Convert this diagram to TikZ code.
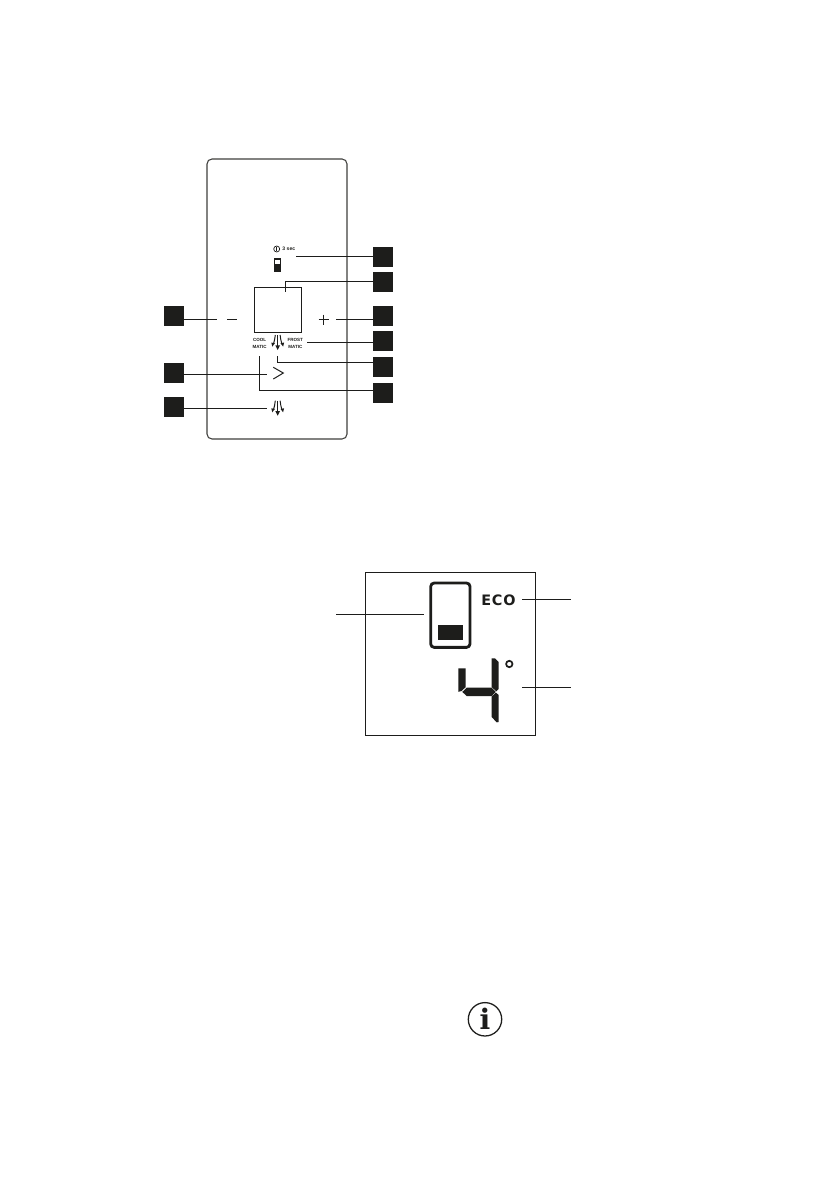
\documentclass[tikz,border=0pt]{standalone}
\usepackage{fontspec}
\setmainfont{Liberation Sans}
\newfontfamily\ecofont[LetterSpace=6]{DejaVu Sans}
\newfontfamily\infofont{DejaVu Serif}
\definecolor{ink}{HTML}{1D1D1B}
\tikzset{
	numbox/.style={draw=none,fill=ink,minimum size=14.2pt,inner sep=0pt,outer sep=0pt},
	leader/.style={draw=ink,line width=0.65pt},
	tinylabel/.style={inner sep=0pt,align=center,text=ink,font=\fontsize{3.2}{5}\selectfont\bfseries},
	fanicon/.pic={
		\draw[ink,line width=0.8pt] (0,0) -- (0,12);
		\fill[ink] (-2.3,10.4) -- (2.3,10.4) -- (0,15) -- cycle;
		\draw[ink,line width=0.7pt] (-2.4,0) .. controls (-2.4,3) and (-3.6,6) .. (-4.2,9);
		\fill[ink] (-6.4,7.6) -- (-2.8,8.2) -- (-5.4,11.6) -- cycle;
		\draw[ink,line width=0.7pt] (2.4,0) .. controls (2.4,3) and (3.6,6) .. (4.2,9);
		\fill[ink] (6.4,7.6) -- (2.8,8.2) -- (5.4,11.6) -- cycle;
	}
}
\begin{document}
\begin{tikzpicture}[x=0.709pt,y=-0.709pt]
	\useasboundingbox[fill=white] (0,0) rectangle (839,1191);

	% control panel
	\draw[ink!85,line width=0.75pt,rounded corners=3.5pt] (207,159) rectangle (347,439);
	\draw[ink,line width=0.7pt] (254.3,287.3) rectangle (301.3,332);
	\draw[ink,line width=0.7pt] (227,319.3) -- (237,319.3);
	\draw[ink,line width=0.5pt] (318.7,319.7) -- (328.7,319.7);
	\draw[ink,line width=0.5pt] (323.7,314.7) -- (323.7,324.7);
	\draw[ink,line width=0.7pt] (273.3,367.3) -- (283.3,373) -- (273.3,379);

	\draw[ink,line width=0.5pt] (276.7,249) circle (3);
	\draw[ink,line width=0.5pt] (276.7,247.2) -- (276.7,250.8);
	\node[tinylabel,anchor=west,font=\fontsize{3.6}{5}\selectfont\bfseries] (seclabel) at (282.2,249) {3 sec};
	\draw[ink,line width=1.1pt] (274.5,258.8) rectangle (280.3,271);
	\fill[ink] (275.2,264.4) rectangle (279.6,265.6);
	\fill[ink] (275.2,266.5) rectangle (279.6,270.4);

	\node[tinylabel] (coollabel) at (259.7,343.2) {COOL\\MATIC};
	\node[tinylabel] (frostlabel) at (295.3,343.2) {FROST\\MATIC};
	\pic at (277.7,335) {fanicon};
	\pic at (277.7,400.7) {fanicon};

	% numbered boxes
	\node[numbox] (boxminus) at (174,316) {};
	\node[numbox] (boxnext) at (174,373) {};
	\node[numbox] (boxfan) at (174,407) {};
	\node[numbox] (boxinfo) at (383,257) {};
	\node[numbox] (boxdisplay) at (383,282) {};
	\node[numbox] (boxplus) at (383,316) {};
	\node[numbox] (boxfrost) at (383,341) {};
	\node[numbox] (boxdown) at (383,367) {};
	\node[numbox] (boxcool) at (383,393) {};

	\coordinate (tipminus) at (217,319.7);
	\coordinate (tipnext) at (266.7,374.3);
	\coordinate (tipfan) at (266.7,408.3);
	\coordinate (tipinfo) at (295.7,256.3);
	\coordinate (tipdisplay) at (285.7,291.7);
	\coordinate (tipplus) at (335.7,319.7);
	\coordinate (tipfrost) at (306.7,342.3);
	\coordinate (tipdown) at (277.7,356);
	\coordinate (tipcool) at (259.3,356);

	\draw[leader] (tipminus -| boxminus.east) -- (tipminus);
	\draw[leader] (tipnext -| boxnext.east) -- (tipnext);
	\draw[leader] (tipfan -| boxfan.east) -- (tipfan);
	\draw[leader] (tipinfo -| boxinfo.west) -- (tipinfo);
	\draw[leader] (tipplus -| boxplus.west) -- (tipplus);
	\draw[leader] (tipfrost -| boxfrost.west) -- (tipfrost);
	\draw[leader] (boxdisplay.west |- 0,281.3) -- (285.7,281.3) -- (tipdisplay);
	\draw[leader] (boxdown.west |- 0,362.3) -- (277.7,362.3) -- (tipdown);
	\draw[leader] (boxcool.west |- 0,390.3) -- (259.3,390.3) -- (tipcool);

	% display
	\draw[ink,line width=0.7pt] (365.3,572.3) rectangle (535.3,735.7);
	\draw[ink,line width=2pt,rounded corners=2.5pt] (430.7,583) rectangle (470,647.4);
	\fill[ink] (438,625) rectangle (463,640);
	\node[inner sep=0pt,text=ink,anchor=west,font=\fontsize{10.2}{12}\ecofont\bfseries] (ecolabel) at (481,600.6) {ECO};

	\fill[ink] (458.3,668.3) -- (465.5,668.3) -- (465.5,687.3) -- (461.6,691) -- (458.3,691.8) -- cycle;
	\fill[ink] (462.3,691.9) -- (466.7,687.7) -- (491.7,687.7) -- (495.7,691.9) -- (491.7,696) -- (466.7,696) -- cycle;
	\fill[ink] (491.7,658.3) -- (495,658.3) -- (498.7,662) -- (498.7,689) -- (496.2,691.4) -- (491.7,687) -- cycle;
	\fill[ink] (491.7,696.4) -- (495.9,692.6) -- (498.7,695) -- (498.7,722) -- (496.7,722.4) -- (491.7,717) -- cycle;
	\draw[ink,line width=1.2pt] (509.3,664) circle (3.2);

	\coordinate (tipleft) at (336,614);
	\coordinate (tipeco) at (570.7,599.7);
	\coordinate (tiptemp) at (570.7,687);
	\draw[leader] (tipleft) -- (424.3,614);
	\draw[leader] (tipeco) -- (522.3,599.7);
	\draw[leader] (tiptemp) -- (521.7,687);

	% info sign
	\draw[ink,line width=0.9pt] (485,1019.3) circle (16.7);
	\node[inner sep=0pt,text=ink,font=\fontsize{20}{22}\infofont\bfseries] (infosign) at (485,1019) {i};
\end{tikzpicture}
\end{document}
